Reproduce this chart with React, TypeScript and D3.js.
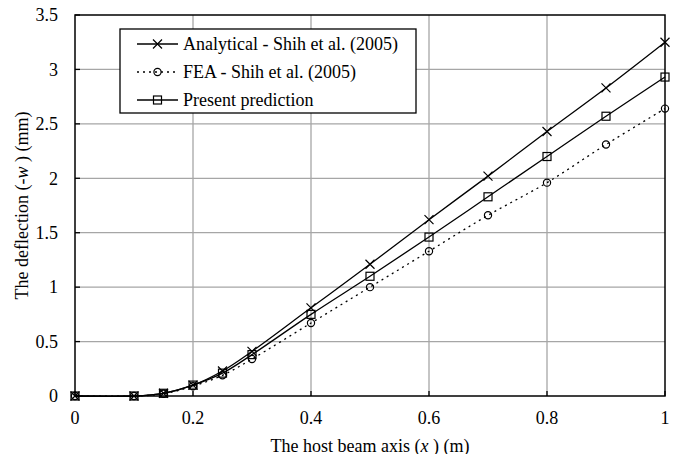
import React from "react";
import * as d3 from "d3";

const xs = [0, 0.1, 0.15, 0.2, 0.25, 0.3, 0.4, 0.5, 0.6, 0.7, 0.8, 0.9, 1];
const analytical = [0, 0, 0.025, 0.1, 0.23, 0.41, 0.81, 1.21, 1.62, 2.02, 2.43, 2.83, 3.25];
const fea = [0, 0, 0.02, 0.09, 0.19, 0.34, 0.67, 1.0, 1.33, 1.66, 1.96, 2.31, 2.64];
const present = [0, 0, 0.025, 0.1, 0.21, 0.38, 0.75, 1.1, 1.46, 1.83, 2.2, 2.57, 2.93];
const xTicks = [0, 0.2, 0.4, 0.6, 0.8, 1];
const yTicks = [0, 0.5, 1, 1.5, 2, 2.5, 3, 3.5];
const legendLabels = ["Analytical - Shih et al. (2005)", "FEA - Shih et al. (2005)", "Present prediction"];

const L = 75, R = 665, T = 15, B = 396;
const FS = 18;

function Marker({ kind, x, y }: { kind: string; x: number; y: number }) {
  if (kind === "x") {
    const s = 4.5;
    return <path d={`M${x - s},${y - s}L${x + s},${y + s}M${x - s},${y + s}L${x + s},${y - s}`} stroke="#000" strokeWidth={1.2} fill="none" />;
  }
  if (kind === "o") {
    return <circle cx={x} cy={y} r={3.6} stroke="#000" strokeWidth={1.2} fill="none" />;
  }
  return <rect x={x - 4} y={y - 4} width={8} height={8} stroke="#000" strokeWidth={1.2} fill="none" />;
}

export default function App() {
  const x = d3.scaleLinear().domain([0, 1]).range([L, R]);
  const y = d3.scaleLinear().domain([0, 3.5]).range([B, T]);
  const line = d3.line<[number, number]>().x(d => x(d[0])).y(d => y(d[1])).curve(d3.curveCatmullRom.alpha(0.5));
  const series = [
    { vals: analytical, kind: "x", dash: undefined },
    { vals: fea, kind: "o", dash: "2,4" },
    { vals: present, kind: "s", dash: undefined },
  ];
  return (
    <svg width={682} height={462} style={{ display: "block", margin: "-8px", background: "#fff" }} fontFamily="Liberation Serif">
      <style>{`.c text { font-family: "Liberation Serif", "Times New Roman", Times !important; }`}</style>
      <g className="c">
      <rect x={0} y={0} width={682} height={462} fill="#fff" />
      {yTicks.slice(1, -1).map(t => (
        <line key={"gy" + t} x1={L} x2={R} y1={y(t)} y2={y(t)} stroke="#a6a6a6" strokeWidth={1.3} />
      ))}
      {xTicks.slice(1, -1).map(t => (
        <line key={"gx" + t} x1={x(t)} x2={x(t)} y1={T} y2={B} stroke="#a6a6a6" strokeWidth={1.3} />
      ))}
      {yTicks.map(t => (
        <g key={"ty" + t}>
          <line x1={L} x2={L + 5} y1={y(t)} y2={y(t)} stroke="#000" strokeWidth={1.3} />
          <text x={L - 17} y={y(t)} dy="0.35em" textAnchor="end" fontSize={FS}>{t}</text>
        </g>
      ))}
      {xTicks.map(t => (
        <g key={"tx" + t}>
          <line x1={x(t)} x2={x(t)} y1={B} y2={B - 5} stroke="#000" strokeWidth={1.3} />
          <text x={x(t)} y={B + 22} dy="0.35em" textAnchor="middle" fontSize={FS}>{t}</text>
        </g>
      ))}
      <rect x={L} y={T} width={R - L} height={B - T} fill="none" stroke="#000" strokeWidth={1.5} />
      {series.map((s, i) => (
        <g key={i}>
          <path d={line(xs.map((v, j) => [v, s.vals[j]] as [number, number])) || ""} fill="none" stroke="#000" strokeWidth={1.3} strokeDasharray={s.dash} />
          {xs.map((v, j) => <Marker key={j} kind={s.kind} x={x(v)} y={y(s.vals[j])} />)}
        </g>
      ))}
      <g>
        <rect x={120} y={29} width={296} height={84} fill="#fff" stroke="#000" strokeWidth={1.3} />
        {legendLabels.map((lab, i) => {
          const yy = 44 + i * 28;
          const s = series[i];
          return (
            <g key={lab}>
              <line x1={137} x2={178} y1={yy} y2={yy} stroke="#000" strokeWidth={1.3} strokeDasharray={s.dash} />
              <Marker kind={s.kind} x={157.5} y={yy} />
              <text x={183} y={yy} dy="0.35em" fontSize={FS}>{lab}</text>
            </g>
          );
        })}
      </g>
      <text x={370} y={446} dy="0.35em" textAnchor="middle" fontSize={FS}>
        The host beam axis (<tspan fontStyle="italic">x</tspan> ) (m)
      </text>
      <text transform={`translate(22,${(T + B) / 2}) rotate(-90)`} textAnchor="middle" dy="0.35em" fontSize={FS}>
        The deflection (-<tspan fontStyle="italic">w</tspan> ) (mm)
      </text>
      </g>
    </svg>
  );
}
